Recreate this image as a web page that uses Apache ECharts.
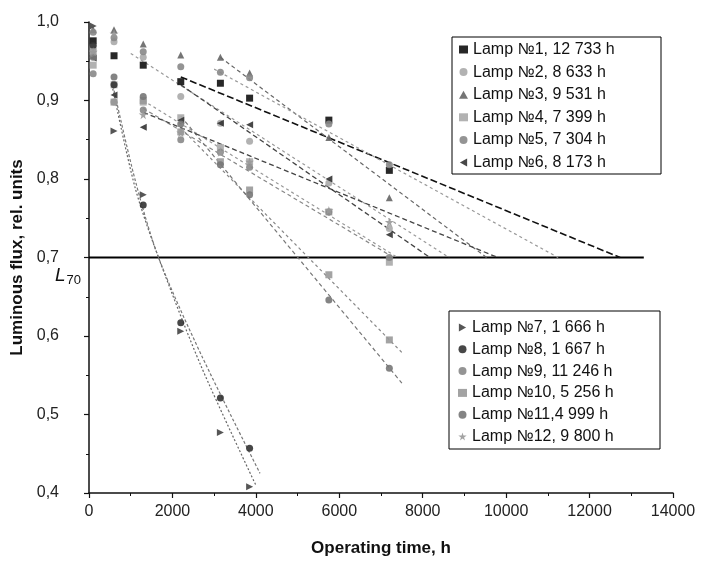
<!DOCTYPE html>
<html>
<head>
<meta charset="utf-8">
<script src="https://cdn.jsdelivr.net/npm/echarts@6/dist/echarts.min.js"></script>
<style>
  html, body { margin: 0; padding: 0; background: #fff; }
  #chart { width: 703px; height: 570px; }
</style>
</head>
<body>
<div id="chart"></div>
<script>
// measurement times, h
const times = [100, 600, 1300, 2200, 3150, 3850, 5750, 7200]
const timesShort = [100, 600, 1300, 2200, 3150, 3850]

const lampNames = [
  'Lamp №1, 12 733 h', 'Lamp №2, 8 633 h', 'Lamp №3, 9 531 h',
  'Lamp №4, 7 399 h', 'Lamp №5, 7 304 h', 'Lamp №6, 8 173 h',
  'Lamp №7, 1 666 h', 'Lamp №8, 1 667 h', 'Lamp №9, 11 246 h',
  'Lamp №10, 5 256 h', 'Lamp №11,4 999 h', 'Lamp №12, 9 800 h'
]

// relative luminous flux per lamp
const lamp1 = [0.976, 0.957, 0.945, 0.924, 0.922, 0.903, 0.875, 0.811]
const lamp2 = [0.968, 0.975, 0.955, 0.905, 0.871, 0.848, 0.795, 0.737]
const lamp3 = [0.990, 0.990, 0.972, 0.958, 0.955, 0.935, 0.853, 0.776]
const lamp4 = [0.945, 0.920, 0.898, 0.878, 0.840, 0.822, 0.758, 0.694]
const lamp5 = [0.934, 0.898, 0.888, 0.850, 0.834, 0.815, 0.758, 0.700]
const lamp6 = [0.954, 0.907, 0.866, 0.875, 0.871, 0.869, 0.800, 0.729]
const lamp7 = [0.995, 0.861, 0.780, 0.606, 0.477, 0.408]
const lamp8 = [0.970, 0.920, 0.767, 0.617, 0.521, 0.457]
const lamp9 = [0.987, 0.980, 0.962, 0.943, 0.936, 0.929, 0.870, 0.818]
const lamp10 = [0.962, 0.898, 0.900, 0.860, 0.822, 0.786, 0.678, 0.595]
const lamp11 = [0.955, 0.930, 0.905, 0.870, 0.818, 0.780, 0.646, 0.559]
const lamp12 = [0.962, 0.985, 0.882, 0.859, 0.834, 0.822, 0.760, 0.745]

// trend lines, [time, flux]
const trend1 = [[2200, 0.930], [12733, 0.7]]
const trend2 = [[1000, 0.960], [8633, 0.7]]
const trend3 = [[3150, 0.955], [9531, 0.7]]
const trend4 = [[1300, 0.900], [7399, 0.7]]
const trend5 = [[1300, 0.890], [7304, 0.7]]
const trend6 = [[2200, 0.920], [8173, 0.7]]
const trend7 = [[550, 0.920], [1100, 0.790], [1666, 0.7], [2700, 0.560], [4000, 0.410]]
const trend8 = [[550, 0.925], [1100, 0.800], [1667, 0.7], [2700, 0.575], [4100, 0.425]]
const trend9 = [[3000, 0.940], [11246, 0.7]]
const trend10 = [[2200, 0.865], [7500, 0.579]]
const trend11 = [[2200, 0.880], [7500, 0.540]]
const trend12 = [[1300, 0.885], [9800, 0.7]]

const l70Line = [[0, 0.7], [13300, 0.7]]

const STAR = 'path://M50,0 L61,35 L98,35 L68,57 L79,92 L50,70 L21,92 L32,57 L2,35 L39,35 Z'
const TRI_LEFT = 'path://M0,50 L90,0 L90,100 Z'
const TRI_RIGHT = 'path://M100,50 L10,0 L10,100 Z'

const lamps = [
  { v: lamp1, t: times, trend: trend1, symbol: 'rect', color: '#111', line: '#111', dash: [7, 3], w: 1.6 },
  { v: lamp2, t: times, trend: trend2, symbol: 'circle', color: '#aaa', line: '#999', dash: [3, 3], w: 1.2 },
  { v: lamp3, t: times, trend: trend3, symbol: 'triangle', color: '#666', line: '#666', dash: [4, 3], w: 1.2 },
  { v: lamp4, t: times, trend: trend4, symbol: 'rect', color: '#aaa', line: '#999', dash: [3, 3], w: 1.2 },
  { v: lamp5, t: times, trend: trend5, symbol: 'circle', color: '#888', line: '#888', dash: [4, 3], w: 1.2 },
  { v: lamp6, t: times, trend: trend6, symbol: TRI_LEFT, color: '#333', line: '#444', dash: [5, 3], w: 1.3 },
  { v: lamp7, t: timesShort, trend: trend7, symbol: TRI_RIGHT, color: '#444', line: '#666', dash: [2, 2], w: 1.2 },
  { v: lamp8, t: timesShort, trend: trend8, symbol: 'circle', color: '#333', line: '#777', dash: [3, 2], w: 1.2 },
  { v: lamp9, t: times, trend: trend9, symbol: 'circle', color: '#888', line: '#999', dash: [3, 3], w: 1.2 },
  { v: lamp10, t: times, trend: trend10, symbol: 'rect', color: '#999', line: '#888', dash: [3, 3], w: 1.2 },
  { v: lamp11, t: times, trend: trend11, symbol: 'circle', color: '#777', line: '#777', dash: [4, 3], w: 1.2 },
  { v: lamp12, t: times, trend: trend12, symbol: STAR, color: '#999', line: '#444', dash: [5, 3], w: 1.3 }
]

const chart = echarts.init(document.getElementById('chart'))

const series = []
lamps.forEach((l, i) => {
  series.push({
    name: lampNames[i],
    type: 'scatter',
    data: l.v.map((y, k) => [l.t[k], y]),
    symbol: l.symbol,
    symbolSize: l.symbol === STAR ? 9 : 7,
    itemStyle: { color: l.color, opacity: 0.9 },
    z: 4
  })
  series.push({
    type: 'line',
    data: l.trend,
    showSymbol: false,
    silent: true,
    smooth: l.trend.length > 2 ? 0.3 : false,
    lineStyle: { color: l.line, width: l.w, type: l.dash },
    z: 3
  })
})
series.push({
  type: 'line',
  data: l70Line,
  showSymbol: false,
  silent: true,
  lineStyle: { color: '#000', width: 2 },
  z: 2
})

const labelFmt = v => v.toFixed(1).replace('.', ',')

const legendBase = {
  orient: 'vertical',
  backgroundColor: '#fff',
  borderColor: '#000',
  borderWidth: 1,
  borderRadius: 0,
  itemWidth: 9,
  itemHeight: 8,
  itemGap: 5,
  textStyle: { fontFamily: 'Liberation Sans, Arial', fontSize: 16, color: '#111', width: 182, lineHeight: 17 }
}

const option = {
  animation: false,
  backgroundColor: '#fff',
  grid: { left: 89, right: 30, top: 22, bottom: 77 },
  legend: [
    Object.assign({}, legendBase, {
      data: lampNames.slice(0, 6),
      left: 452, top: 37,
      padding: [4, 6, 3, 7],
      itemGap: 5.6
    }),
    Object.assign({}, legendBase, {
      data: lampNames.slice(6),
      left: 449, top: 311,
      padding: [8, 6, 4, 9],
      itemGap: 4.8
    })
  ],
  xAxis: {
    type: 'value',
    min: 0, max: 14000, interval: 2000,
    name: 'Operating time, h',
    nameLocation: 'middle',
    nameGap: 47,
    nameTextStyle: { fontFamily: 'Liberation Sans, Arial', fontSize: 17, fontWeight: 'bold', color: '#111' },
    axisLine: { lineStyle: { color: '#111', width: 1.5 } },
    axisTick: { length: 5, lineStyle: { color: '#111', width: 1.2 } },
    minorTick: { show: true, splitNumber: 2, length: 3, lineStyle: { color: '#111' } },
    splitLine: { show: false },
    axisLabel: { fontFamily: 'Liberation Sans, Arial', fontSize: 16, color: '#222', margin: 11, formatter: v => String(v) }
  },
  yAxis: {
    type: 'value',
    min: 0.4, max: 1.0, interval: 0.1,
    name: 'Luminous flux, rel. units',
    nameLocation: 'middle',
    nameGap: 63,
    nameTextStyle: { fontFamily: 'Liberation Sans, Arial', fontSize: 17, fontWeight: 'bold', color: '#111' },
    axisLine: { show: true, lineStyle: { color: '#111', width: 1.5 } },
    axisTick: { show: true, length: 5, lineStyle: { color: '#111', width: 1.2 } },
    minorTick: { show: true, splitNumber: 2, length: 3, lineStyle: { color: '#111' } },
    splitLine: { show: false },
    axisLabel: { fontFamily: 'Liberation Sans, Arial', fontSize: 16, color: '#222', margin: 30, formatter: labelFmt }
  },
  graphic: [{
    type: 'text',
    left: 55, top: 266,
    style: {
      text: '{l|L}{s|70}',
      rich: {
        l: { fontFamily: 'Liberation Sans, Arial', fontSize: 19, fontStyle: 'italic', fill: '#111' },
        s: { fontFamily: 'Liberation Sans, Arial', fontSize: 13, fill: '#111', padding: [9, 0, 0, 1] }
      }
    }
  }],
  series
}

chart.setOption(option)
</script>
</body>
</html>
